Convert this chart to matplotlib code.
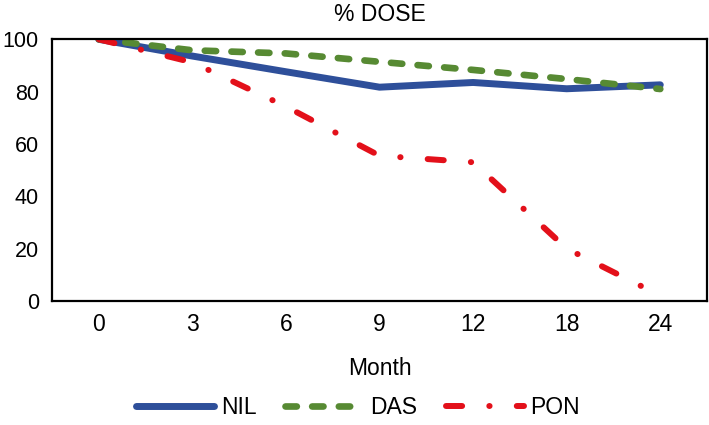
import matplotlib
matplotlib.use('Agg')
import matplotlib.pyplot as plt
import numpy as np

# values
months = ['0', '3', '6', '9', '12', '18', '24']
nil = [100, 93.6, 87.6, 81.7, 83.5, 81.1, 82.6]
das = [100, 95.8, 94.6, 91.4, 88.3, 84.8, 81.0]
pon = [100, 91.2, 74.3, 55.5, 53.0, 20.0, 2.0]

plt.rcParams['font.family'] = ['Liberation Sans', 'DejaVu Sans']
fs = 16.5

fig = plt.figure(figsize=(7.09, 4.25), dpi=100)
ax = fig.add_axes([0.0733, 0.292, 0.924, 0.6155])

x = np.arange(len(months))
ax.plot(x, nil, color='#2E4F9A', lw=5.0, solid_capstyle='round', label='NIL')
ax.plot(x, das, color='#578A33', lw=4.8, ls=(0, (1.7, 2.3)), dash_capstyle='round', label='DAS')
ax.plot(x, pon, color='#E3101A', lw=4.3, ls=(0, (2.7, 4.55, 0.05, 4.55)), dash_capstyle='round', label='PON')

ax.set_xlim(-0.5, len(months) - 0.5)
ax.set_ylim(0, 100)
ax.set_xticks(x)
ax.set_xticklabels(months)
ax.set_yticks([0, 20, 40, 60, 80, 100])
ax.tick_params(axis='x', length=0, labelsize=fs, pad=9)
ax.tick_params(axis='y', length=0, labelsize=15.5, pad=9.5)
for s in ax.spines.values():
    s.set_linewidth(1.6)
    s.set_color('black')

ax.set_xlabel('Month', fontsize=fs, labelpad=15)
ax.set_title('% DOSE', fontsize=fs, pad=13.5)

fig.legend(loc='center', bbox_to_anchor=(0.505, 0.042), ncol=3, frameon=False,
           fontsize=fs, handlelength=3.4, columnspacing=1.25, handletextpad=0.3)

fig.savefig('out.png', dpi=100)
